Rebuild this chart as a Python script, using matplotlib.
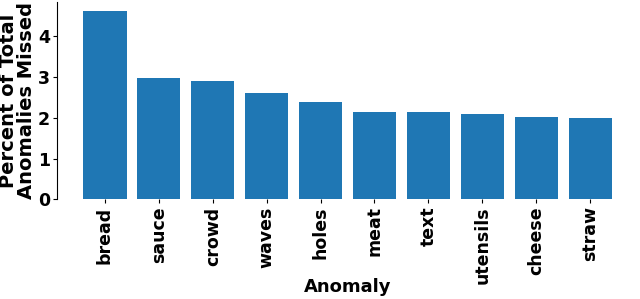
import numpy as np
import matplotlib.pyplot as plt

# anomalias e porcentagem perdida
anomalias = ['bread', 'sauce', 'crowd', 'waves', 'holes', 'meat', 'text', 'utensils', 'cheese', 'straw']
porcentagem = [4.60, 2.96, 2.89, 2.60, 2.38, 2.14, 2.14, 2.09, 2.01, 2.00]

plt.rcParams['font.weight'] = 'bold'
plt.rcParams['axes.labelweight'] = 'bold'

fig, ax = plt.subplots(figsize=(6.4, 2.99), dpi=100)
ax.bar(anomalias, porcentagem, color='#1f77b4')

ax.set_xlabel('Anomaly', fontsize=13)
ax.set_ylabel('Percent of Total\nAnomalies Missed', fontsize=14, linespacing=0.95)
ax.xaxis.set_label_coords(0.5, -0.397)
ax.yaxis.set_label_coords(-0.036, 0.5)
ax.tick_params(axis='x', labelsize=12.5, rotation=90, length=3, pad=2)
ax.tick_params(axis='y', labelsize=12.5, length=3, pad=2)

for s in ['top', 'right', 'bottom']:
    ax.spines[s].set_visible(False)

fig.subplots_adjust(left=0.089, right=0.997, bottom=0.333, top=0.993)
fig.savefig('out.png')
